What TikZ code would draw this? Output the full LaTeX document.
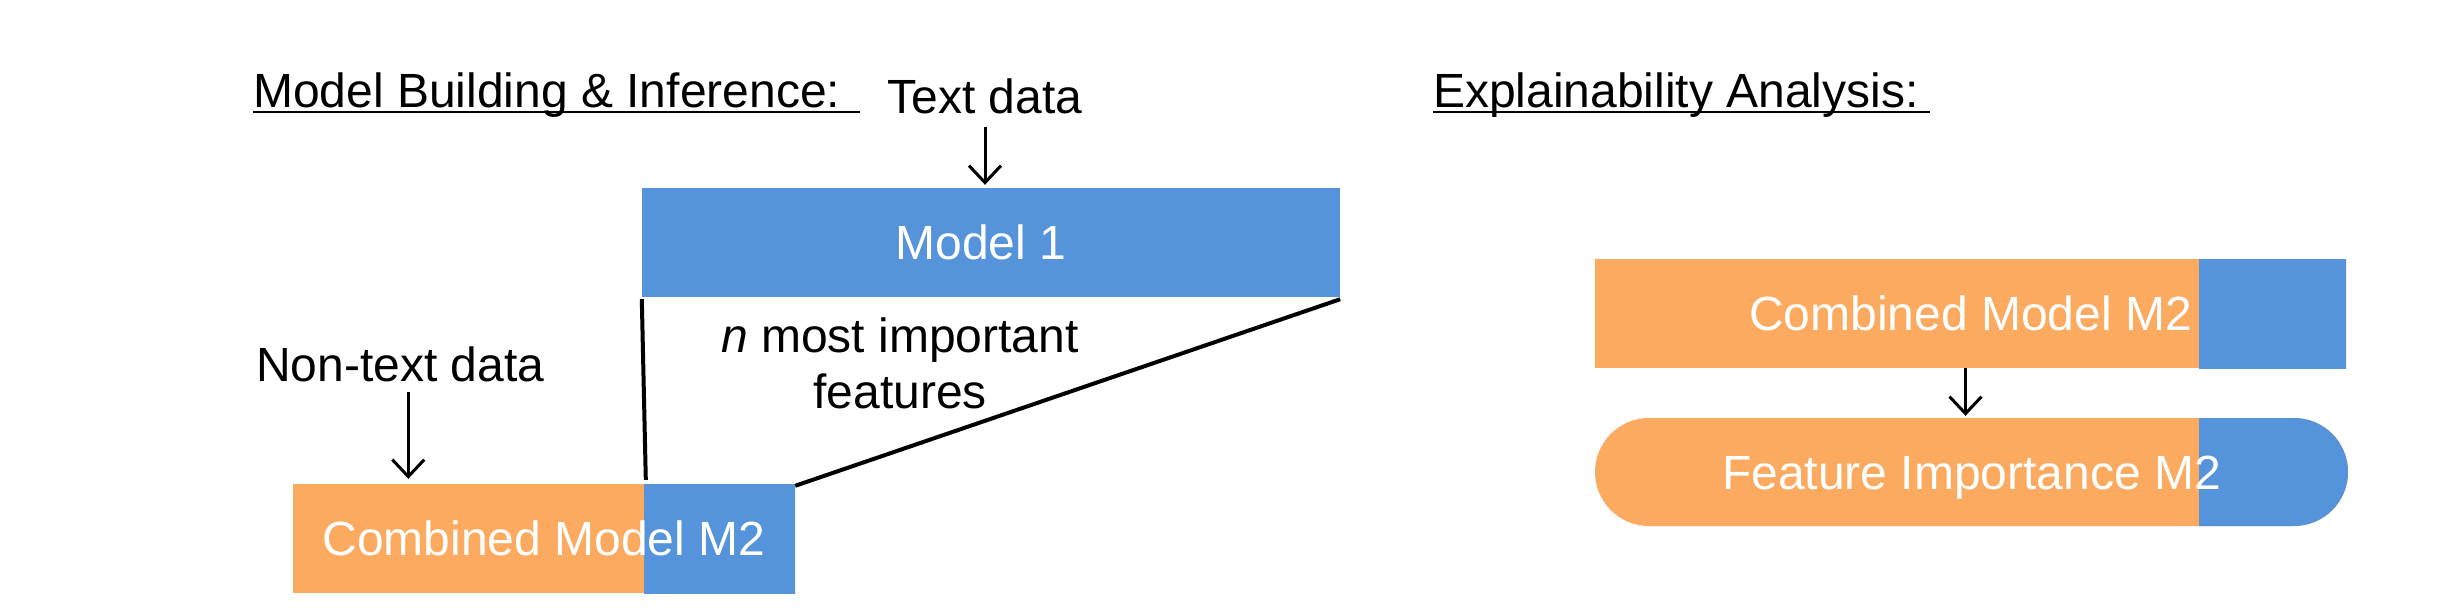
\documentclass[tikz,border=0pt]{standalone}
\usepackage{fontspec}
\setmainfont{Liberation Sans}
\usetikzlibrary{arrows.meta}
\definecolor{mblue}{RGB}{85,148,218}
\definecolor{morange}{RGB}{252,170,96}
\begin{document}
\begin{tikzpicture}[x=1pt,y=-1pt,
  every node/.style={font=\fontsize{48}{56}\selectfont, inner sep=0pt},
  box/.style={minimum height=109pt, text=white, text height=34pt, text depth=0pt},
  bluepart/.style={path picture={\fill[mblue, sharp corners] ([xshift=-#1]path picture bounding box.north east) rectangle ([xshift=10pt,yshift=-10pt]path picture bounding box.south east);}},
  conn/.style={line width=4pt},
  arr/.style={line width=3pt, -{Straight Barb[length=17pt,width=32pt]}},
  uline/.style={line width=2pt}]
\fill[white] (0,0) rectangle (2460,610);
\useasboundingbox (0,0) rectangle (2460,610);

% left part
\node[anchor=base west] (t1) at (253,107) {Model Building \& Inference:};
\draw[uline] ([yshift=-5pt]t1.base west) -- ++(607,0);
\node[anchor=base] (td) at (985,113) {Text data};
\node[box, fill=mblue, minimum width=698pt] (m1) at (991,242.5) {\hspace*{-20pt}Model 1};
\draw[arr] ([yshift=-13pt]td.south) -- ([yshift=3pt]td.south |- m1.north);

\node[anchor=base west] (nt) at (256,381) {Non-text data};
\node[box, fill=morange, minimum width=502pt, bluepart=151pt] (cm) at (544,538.5) {Combined Model M2};
\draw[arr] ([xshift=8pt,yshift=-10pt]nt.south) -- ([xshift=8pt,yshift=5pt]nt.south |- cm.north);

\draw[conn] ([yshift=-2pt]m1.south west) -- ([xshift=353pt,yshift=4pt]cm.north west);
\draw[conn] ([yshift=-2pt]m1.south east) -- ([yshift=-2pt]cm.north east);
\node[align=center, anchor=north] (nf) at (900,318) {\textit{n} most important\\features};

% right part
\node[anchor=base west] (t2) at (1433,107) {Explainability Analysis:};
\draw[uline] ([yshift=-5pt]t2.base west) -- ++(497,0);
\node[box, fill=morange, minimum width=751pt, bluepart=147pt] (rcm) at (1970.5,313.5) {Combined Model M2};
\node[box, fill=morange, minimum width=753pt, minimum height=108pt, rounded corners=54pt, bluepart=149pt] (fi) at (1971.5,472) {Feature Importance M2};
\draw[arr] ([xshift=-5pt]rcm.south) -- ([xshift=-5pt,yshift=2pt]rcm.south |- fi.north);
\end{tikzpicture}
\end{document}
